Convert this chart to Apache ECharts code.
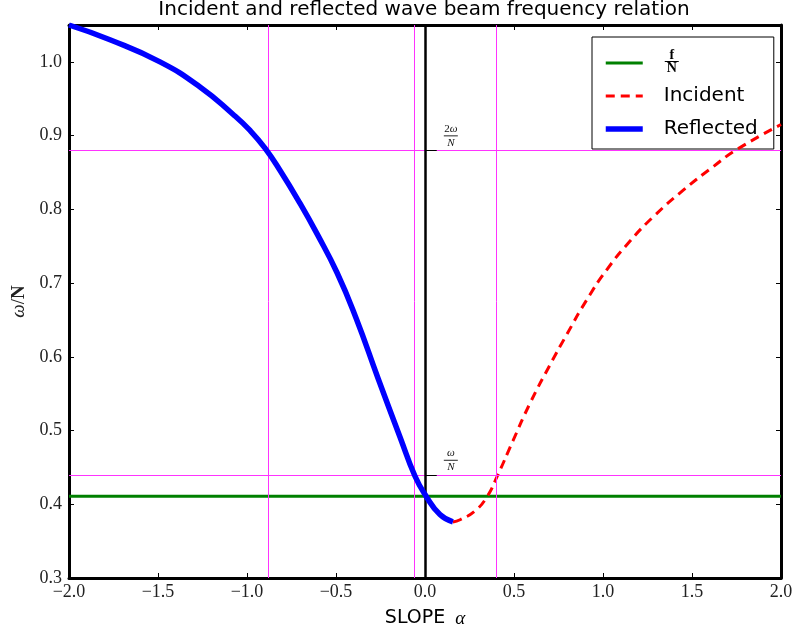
<!DOCTYPE html>
<html>
<head>
<meta charset="utf-8">
<script src="https://cdn.jsdelivr.net/npm/echarts@6/dist/echarts.min.js"></script>
<style>
html,body{margin:0;padding:0;background:#fff;}
#chart{width:798px;height:634px;}
</style>
</head>
<body>
<div id="chart"></div>
<script>
// ---- data ----
var reflectedX = [-2.0, -1.77, -1.489, -1.264, -1.079, -0.983, -0.899, -0.815, -0.702, -0.607, -0.494, -0.388, -0.264, -0.140, -0.056, 0.006, 0.084, 0.157];
var reflectedY = [1.05, 1.030, 1.0, 0.966, 0.929, 0.907, 0.883, 0.853, 0.808, 0.767, 0.714, 0.653, 0.571, 0.491, 0.438, 0.411, 0.386, 0.376];
var incidentX = [0.157, 0.197, 0.281, 0.348, 0.404, 0.494, 0.590, 0.702, 0.796, 0.908, 1.021, 1.152, 1.283, 1.451, 1.620, 1.751, 2.0];
var incidentY = [0.376, 0.379, 0.391, 0.410, 0.437, 0.486, 0.537, 0.589, 0.630, 0.677, 0.718, 0.757, 0.790, 0.826, 0.858, 0.881, 0.915];
var fOverN = 0.411;
var fLineX = [-2.0, 2.0];
var verticalGuides = [-0.876, -0.056, 0.404];
var horizontalGuides = [0.88, 0.44];   // 2ω/N, ω/N
var guideLabelX = 0.145;
var guideTickEnd = 0.066;
var xTicks = {min: -2.0, max: 2.0, interval: 0.5};
var yTicks = {min: 0.3, max: 1.05, interval: 0.1};

function pairs(xs, ys){ return xs.map(function(x,i){ return [x, ys[i]]; }); }

var chart = echarts.init(document.getElementById('chart'), null, {renderer:'canvas'});
var serif = '"Liberation Serif", "DejaVu Serif", serif';
var sans = '"DejaVu Sans", "Liberation Sans", sans-serif';

function fracRich(size){
  return {
    n: {fontFamily: serif, fontSize: size, color:'#111', align:'center', lineHeight: size},
    w: {fontFamily: serif, fontSize: size, fontStyle:'italic', color:'#111', align:'center', lineHeight: size},
    b: {width: 14, height: 1, backgroundColor:'#222', align:'center', lineHeight: 3},
    d: {fontFamily: serif, fontSize: size, fontStyle:'italic', color:'#111', align:'center', lineHeight: size}
  };
}

var xFmt = function(v){ return (v < 0 ? '\u2212' : '') + Math.abs(v).toFixed(1); };
var yFmt = function(v){ return v > 1.0001 ? '' : v.toFixed(1); };

var frameLine = {show:true, onZero:false, lineStyle:{color:'#000', width:3}};
var tickIn = {show:true, inside:true, length:5, lineStyle:{color:'#000', width:1}};

var greenStyle = {color:'#008000', width:3};
var redStyle = {color:'#ff0000', width:3, type:[9,6]};
var blueStyle = {color:'#0000ff', width:5.5, cap:'butt'};

var option = {
  animation: false,
  backgroundColor: '#fff',
  title: {
    text: 'Incident and reflected wave beam frequency relation',
    left: 424, top: 0, padding: 0, textAlign: 'center',
    textStyle: {fontFamily: sans, fontSize: 20, fontWeight: 'normal', color: '#000'}
  },
  grid: {left: 69, right: 17, top: 25, bottom: 56, containLabel: false, outerBoundsMode: 'none'},
  legend: {
    orient: 'vertical',
    left: 592, top: 37,
    padding: [11, 16, 7, 11],
    itemGap: 7,
    itemWidth: 37, itemHeight: 26,
    backgroundColor: '#fff',
    borderColor: '#000', borderWidth: 1, borderRadius: 0,
    selectedMode: false,
    itemStyle: {opacity: 0},
    data: [
      {name:'fN', lineStyle: {color:'#008000', width:3}},
      {name:'Incident', lineStyle: {color:'#ff0000', width:3, type:[9,6]}},
      {name:'Reflected', lineStyle: {color:'#0000ff', width:5.5}}
    ],
    textStyle: {
      fontFamily: sans, fontSize: 20, color: '#000', lineHeight: 26, padding: [0, 0, 0, 16],
      rich: {
        n: {fontFamily: serif, fontSize: 14, fontWeight:'bold', color:'#000', align:'center', width:16, lineHeight: 10},
        b: {width: 14, height: 1, backgroundColor:'#000', align:'center', lineHeight: 3},
        d: {fontFamily: serif, fontSize: 14, fontWeight:'bold', color:'#000', align:'center', width:16, lineHeight: 11},
        e: {fontSize: 2, width: 1, align:'center', lineHeight: 2}
      }
    },
    formatter: function(name){
      if (name === 'fN') return '{n|f}\n{b|}\n{d|N}\n{e|}';
      return name;
    }
  },
  xAxis: [
    {type:'value', min:xTicks.min, max:xTicks.max, interval:xTicks.interval, position:'bottom',
     axisLine: frameLine, axisTick: tickIn, splitLine:{show:false},
     axisLabel:{formatter:xFmt, fontFamily:serif, fontSize:18, color:'#222', margin:5},
     name:'{a|SLOPE}   {b|\u03b1}', nameLocation:'middle', nameGap:31,
     nameTextStyle:{rich:{a:{fontFamily:sans, fontSize:19, color:'#000'}, b:{fontFamily:serif, fontStyle:'italic', fontSize:19, color:'#000'}}}},
    {type:'value', min:xTicks.min, max:xTicks.max, interval:xTicks.interval, position:'top',
     axisLine: frameLine, axisTick: tickIn, splitLine:{show:false}, axisLabel:{show:false}}
  ],
  yAxis: [
    {type:'value', min:yTicks.min, max:yTicks.max, interval:yTicks.interval, position:'left',
     axisLine: frameLine, axisTick: tickIn, splitLine:{show:false},
     axisLabel:{formatter:yFmt, fontFamily:serif, fontSize:18, color:'#222', margin:7},
     name:'{w|\u03c9}{s|/}{n|N}', nameLocation:'middle', nameGap:26, nameRotate:90,
     nameTextStyle:{rich:{w:{fontFamily:serif, fontStyle:'italic', fontSize:19, color:'#222'}, s:{fontFamily:serif, fontSize:19, color:'#222'}, n:{fontFamily:serif, fontWeight:'bold', fontSize:19, color:'#222'}}}},
    {type:'value', min:yTicks.min, max:yTicks.max, interval:yTicks.interval, position:'right',
     axisLine: frameLine, axisTick: tickIn, splitLine:{show:false}, axisLabel:{show:false}}
  ],
  series: [
    {
      name: 'guides', type: 'line', data: [], silent: true, z: 1,
      markLine: {
        silent: true, symbol: ['none','none'], animation: false,
        label: {show:false},
        lineStyle: {color:'#ff33ff', width:1, type:'solid'},
        emphasis: {disabled: true},
        data: verticalGuides.map(function(v){ return {xAxis: v}; })
          .concat(horizontalGuides.map(function(v){ return {yAxis: v}; }))
      }
    },
    {
      name: 'fN', type: 'line', data: pairs(fLineX, [fOverN, fOverN]),
      symbol: 'none', z: 3,
      lineStyle: greenStyle,
      itemStyle: {color:'#008000'}
    },
    {
      name: 'Incident', type: 'line', data: pairs(incidentX, incidentY),
      symbol: 'none', smooth: 0.5, z: 4,
      lineStyle: redStyle,
      itemStyle: {color:'#ff0000'}
    },
    {
      name: 'Reflected', type: 'line', data: pairs(reflectedX, reflectedY),
      symbol: 'none', smooth: 0.5, z: 5,
      lineStyle: blueStyle,
      itemStyle: {color:'#0000ff'}
    },
    {
      name: 'axis0', type: 'line', data: [], silent: true, z: 2,
      markLine: {
        silent: true, symbol: ['none','none'], animation: false,
        label: {show:false},
        emphasis: {disabled: true},
        lineStyle: {color:'#000', width:2.5, type:'solid'},
        data: [
          {xAxis: 0},
          [{coord:[0, horizontalGuides[0]], lineStyle:{width:1}}, {coord:[guideTickEnd, horizontalGuides[0]]}],
          [{coord:[0, horizontalGuides[1]], lineStyle:{width:1}}, {coord:[guideTickEnd, horizontalGuides[1]]}]
        ]
      },
      markPoint: {
        silent: true, symbol: 'circle', symbolSize: 0, animation: false,
        label: {show:true, position:'top', distance:2, align:'center', rich: fracRich(11)},
        data: [
          {coord:[guideLabelX, horizontalGuides[0]], label:{formatter:'{n|2}{w|\u03c9}\n{b|}\n{d|N}'}},
          {coord:[guideLabelX, horizontalGuides[1]], label:{formatter:'{w|\u03c9}\n{b|}\n{d|N}'}}
        ]
      }
    }
  ]
};
chart.setOption(option);
</script>
</body>
</html>
